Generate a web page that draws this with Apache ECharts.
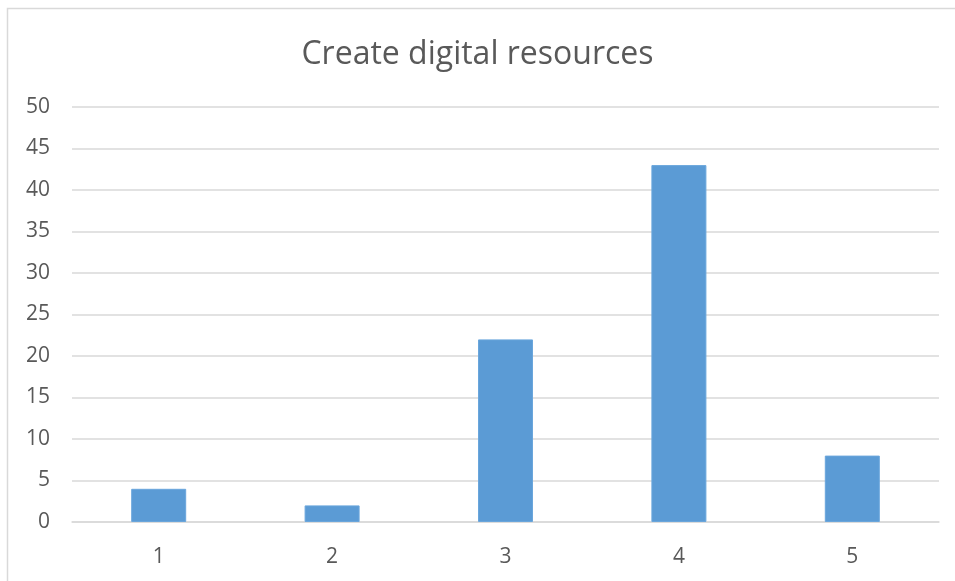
<!DOCTYPE html>
<html>
<head>
<meta charset="utf-8">
<script src="https://cdn.jsdelivr.net/npm/echarts@6/dist/echarts.min.js"></script>
<style>
  html, body { margin: 0; padding: 0; background: #fff; }
  #chart { width: 955px; height: 581px; }
</style>
</head>
<body>
<div id="chart"></div>
<script>
  // chart data
  const categories = ['1', '2', '3', '4', '5']
  const values = [4, 2, 22, 43, 8]
  const titleText = 'Create digital resources'

  const chart = echarts.init(document.getElementById('chart'), null, { renderer: 'canvas' })
  chart.setOption({
    animation: false,
    backgroundColor: '#fff',
    title: {
      text: titleText,
      left: 'center',
      top: 34,
      textStyle: {
        fontFamily: 'Open Sans',
        fontWeight: 'normal',
        fontSize: 32,
        color: '#595959'
      }
    },
    // outer chart border (cropped on right and bottom)
    graphic: [{
      type: 'rect',
      shape: { x: 7.5, y: 8.5, width: 1000, height: 1000 },
      style: { fill: 'none', stroke: '#d9d9d9', lineWidth: 1.5 },
      silent: true
    }],
    grid: {
      left: 72,
      right: 16,
      top: 107,
      bottom: 59
    },
    xAxis: {
      type: 'category',
      data: categories,
      axisLine: { show: true, lineStyle: { color: '#d9d9d9', width: 1.5 } },
      axisTick: { show: false },
      axisLabel: {
        margin: 25,
        fontFamily: 'Open Sans',
        fontSize: 21,
        color: '#595959'
      }
    },
    yAxis: {
      type: 'value',
      min: 0,
      max: 50,
      interval: 5,
      axisLine: { show: false },
      axisTick: { show: false },
      splitLine: { lineStyle: { color: '#d9d9d9', width: 1.5 } },
      axisLabel: {
        margin: 22,
        fontFamily: 'Open Sans',
        fontSize: 21,
        color: '#595959'
      }
    },
    series: [{
      type: 'bar',
      data: values,
      barWidth: 55,
      itemStyle: {
        color: '#5b9bd5',
        borderColor: '#6aa6dc',
        borderWidth: 1
      }
    }]
  })
</script>
</body>
</html>
